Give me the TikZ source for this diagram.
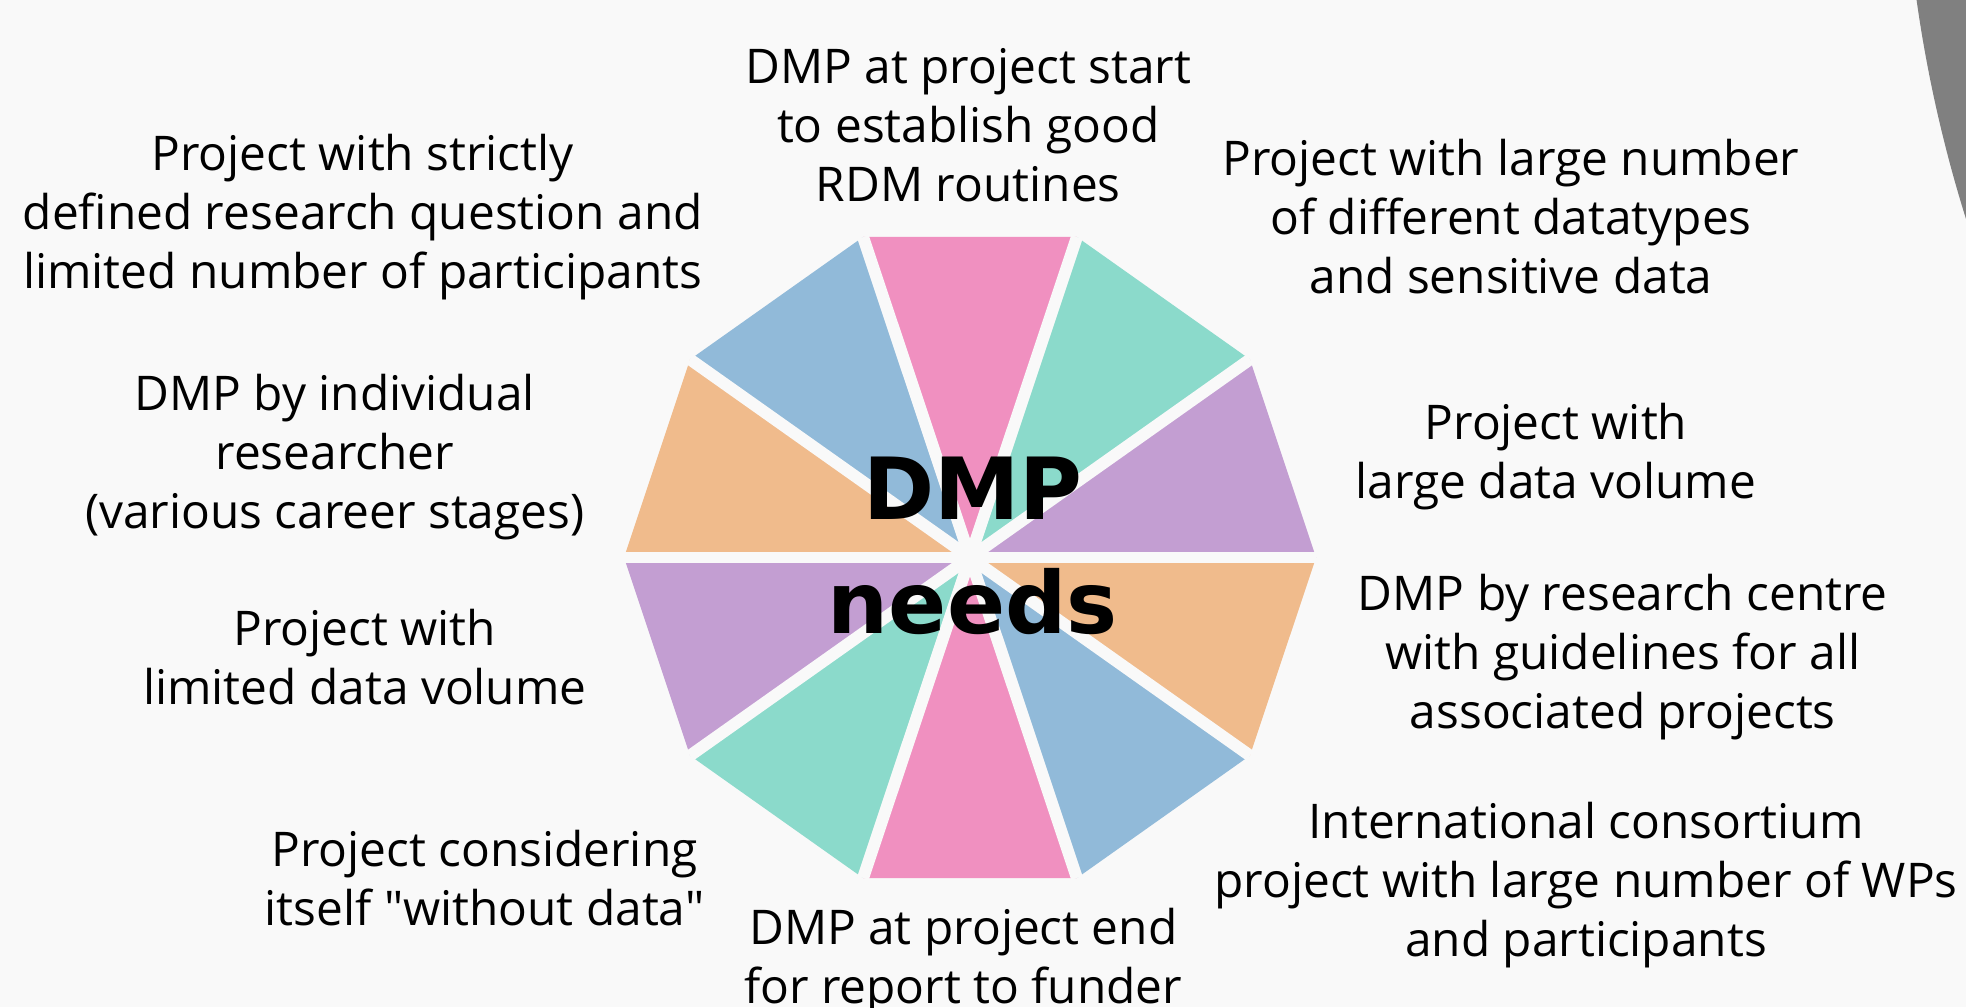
\documentclass[tikz,border=0pt]{standalone}
\usepackage{fontspec}
\setmainfont{Open Sans}[Ligatures=TeXOff]
\newfontfamily\hubfont{DejaVu Sans}
\usetikzlibrary{positioning}
\definecolor{bgcol}{HTML}{F9F9F9}
\definecolor{dmppink}{HTML}{F090C0}
\definecolor{dmpblue}{HTML}{91BAD9}
\definecolor{dmpgreen}{HTML}{8BDACB}
\definecolor{dmppurple}{HTML}{C39ED2}
\definecolor{dmporange}{HTML}{F0BB8C}
\definecolor{decogray}{HTML}{808080}

\begin{document}
\begin{tikzpicture}[needtext/.style={font=\fontsize{13.6pt}{16.79pt}\selectfont, align=center, anchor=base, inner sep=0pt},
    hubtext/.style={font=\hubfont\bfseries\fontsize{24.4pt}{32.24pt}\selectfont, align=center, anchor=base, inner sep=0pt}]

    \fill[bgcol] (0,0) rectangle (19.66,10.07);
    \useasboundingbox (0,0) rectangle (19.66,10.07);
    \clip (0,0) rectangle (19.66,10.07);

    % grey disc in the top right corner
    \fill[decogray] (32.80,12.01) circle (13.77);

    \coordinate (c) at (9.70,4.495);
    \foreach \a [count=\i from 0] in {0,36,...,324}
        \coordinate (v\i) at ([shift={(\a:3.46cm and 3.37cm)}]c);

    \foreach \i/\j/\col in {0/1/dmppurple, 1/2/dmpgreen, 2/3/dmppink, 3/4/dmpblue, 4/5/dmporange,
                            5/6/dmppurple, 6/7/dmpgreen, 7/8/dmppink, 8/9/dmpblue, 9/0/dmporange}
        \fill[\col] (c) -- (v\i) -- (v\j) -- cycle;

    % gaps between the slices
    \foreach \i in {0,...,9}
        \draw[bgcol, line width=3.4pt] (c) -- (v\i);

    % base = baseline of the last line
    \node[hubtext] (hub) at (9.727,3.737) {DMP\\needs};

    \node[needtext] (n1) at (9.683,8.053) {DMP at project start\\to establish good\\RDM routines};
    \node[needtext] (n2) at (3.627,7.187) {Project with strictly\\defined research question and\\limited number of participants};
    \node[needtext] (n3) at (15.11,7.137) {Project with large number\\of different datatypes\\and sensitive data};
    \node[needtext] (n4) at (3.348,4.78) {DMP by individual\\researcher\\(various career stages)};
    \node[needtext] (n5) at (15.56,5.08) {Project with\\large data volume};
    \node[needtext] (n6) at (3.649,3.024) {Project with\\limited data volume};
    \node[needtext] (n7) at (16.228,2.787) {DMP by research centre\\with guidelines for all\\associated projects};
    \node[needtext] (n8) at (4.845,0.817) {Project considering\\itself "without data"};
    \node[needtext] (n9) at (9.633,0.037) {DMP at project end\\for report to funder};
    \node[needtext] (n10) at (15.86,0.504) {International consortium\\project with large number of WPs\\and participants};

\end{tikzpicture}
\end{document}
